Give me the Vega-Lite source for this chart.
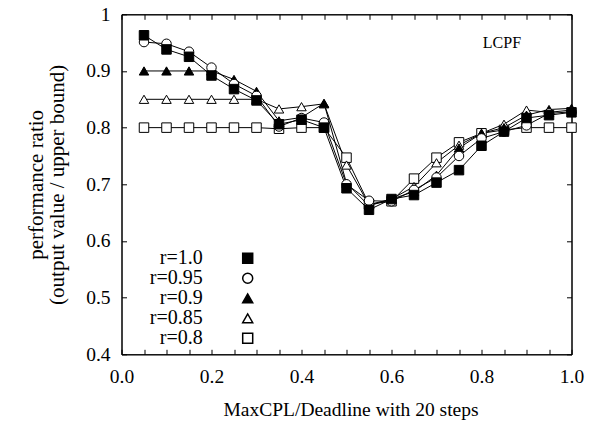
{
  "$schema": "https://vega.github.io/schema/vega-lite/v6.json",
  "width": 450,
  "height": 340,
  "autosize": {"type": "none"},
  "padding": {"left": 121.5, "top": 14.3, "right": 25.5, "bottom": 66.7},
  "background": "white",
  "data": {"values": [
    {"x":0.05,"y":0.80,"r":"r=0.8"},{"x":0.10,"y":0.80,"r":"r=0.8"},{"x":0.15,"y":0.80,"r":"r=0.8"},{"x":0.20,"y":0.80,"r":"r=0.8"},{"x":0.25,"y":0.80,"r":"r=0.8"},{"x":0.30,"y":0.80,"r":"r=0.8"},{"x":0.35,"y":0.798,"r":"r=0.8"},{"x":0.40,"y":0.80,"r":"r=0.8"},{"x":0.45,"y":0.80,"r":"r=0.8"},{"x":0.50,"y":0.747,"r":"r=0.8"},{"x":0.55,"y":0.665,"r":"r=0.8"},{"x":0.60,"y":0.670,"r":"r=0.8"},{"x":0.65,"y":0.710,"r":"r=0.8"},{"x":0.70,"y":0.747,"r":"r=0.8"},{"x":0.75,"y":0.774,"r":"r=0.8"},{"x":0.80,"y":0.790,"r":"r=0.8"},{"x":0.85,"y":0.796,"r":"r=0.8"},{"x":0.90,"y":0.800,"r":"r=0.8"},{"x":0.95,"y":0.800,"r":"r=0.8"},{"x":1.00,"y":0.800,"r":"r=0.8"},
    {"x":0.05,"y":0.85,"r":"r=0.85"},{"x":0.10,"y":0.85,"r":"r=0.85"},{"x":0.15,"y":0.85,"r":"r=0.85"},{"x":0.20,"y":0.85,"r":"r=0.85"},{"x":0.25,"y":0.85,"r":"r=0.85"},{"x":0.30,"y":0.85,"r":"r=0.85"},{"x":0.35,"y":0.833,"r":"r=0.85"},{"x":0.40,"y":0.837,"r":"r=0.85"},{"x":0.45,"y":0.842,"r":"r=0.85"},{"x":0.50,"y":0.734,"r":"r=0.85"},{"x":0.55,"y":0.664,"r":"r=0.85"},{"x":0.60,"y":0.674,"r":"r=0.85"},{"x":0.65,"y":0.696,"r":"r=0.85"},{"x":0.70,"y":0.738,"r":"r=0.85"},{"x":0.75,"y":0.769,"r":"r=0.85"},{"x":0.80,"y":0.790,"r":"r=0.85"},{"x":0.85,"y":0.806,"r":"r=0.85"},{"x":0.90,"y":0.831,"r":"r=0.85"},{"x":0.95,"y":0.827,"r":"r=0.85"},{"x":1.00,"y":0.831,"r":"r=0.85"},
    {"x":0.05,"y":0.90,"r":"r=0.9"},{"x":0.10,"y":0.90,"r":"r=0.9"},{"x":0.15,"y":0.90,"r":"r=0.9"},{"x":0.20,"y":0.90,"r":"r=0.9"},{"x":0.25,"y":0.885,"r":"r=0.9"},{"x":0.30,"y":0.864,"r":"r=0.9"},{"x":0.35,"y":0.812,"r":"r=0.9"},{"x":0.40,"y":0.818,"r":"r=0.9"},{"x":0.45,"y":0.843,"r":"r=0.9"},{"x":0.50,"y":0.702,"r":"r=0.9"},{"x":0.55,"y":0.662,"r":"r=0.9"},{"x":0.60,"y":0.674,"r":"r=0.9"},{"x":0.65,"y":0.687,"r":"r=0.9"},{"x":0.70,"y":0.716,"r":"r=0.9"},{"x":0.75,"y":0.764,"r":"r=0.9"},{"x":0.80,"y":0.790,"r":"r=0.9"},{"x":0.85,"y":0.800,"r":"r=0.9"},{"x":0.90,"y":0.822,"r":"r=0.9"},{"x":0.95,"y":0.832,"r":"r=0.9"},{"x":1.00,"y":0.834,"r":"r=0.9"},
    {"x":0.05,"y":0.951,"r":"r=0.95"},{"x":0.10,"y":0.948,"r":"r=0.95"},{"x":0.15,"y":0.934,"r":"r=0.95"},{"x":0.20,"y":0.906,"r":"r=0.95"},{"x":0.25,"y":0.877,"r":"r=0.95"},{"x":0.30,"y":0.856,"r":"r=0.95"},{"x":0.35,"y":0.802,"r":"r=0.95"},{"x":0.40,"y":0.817,"r":"r=0.95"},{"x":0.45,"y":0.809,"r":"r=0.95"},{"x":0.50,"y":0.700,"r":"r=0.95"},{"x":0.55,"y":0.671,"r":"r=0.95"},{"x":0.60,"y":0.670,"r":"r=0.95"},{"x":0.65,"y":0.690,"r":"r=0.95"},{"x":0.70,"y":0.712,"r":"r=0.95"},{"x":0.75,"y":0.750,"r":"r=0.95"},{"x":0.80,"y":0.781,"r":"r=0.95"},{"x":0.85,"y":0.793,"r":"r=0.95"},{"x":0.90,"y":0.804,"r":"r=0.95"},{"x":0.95,"y":0.825,"r":"r=0.95"},{"x":1.00,"y":0.828,"r":"r=0.95"},
    {"x":0.05,"y":0.963,"r":"r=1.0"},{"x":0.10,"y":0.938,"r":"r=1.0"},{"x":0.15,"y":0.925,"r":"r=1.0"},{"x":0.20,"y":0.892,"r":"r=1.0"},{"x":0.25,"y":0.868,"r":"r=1.0"},{"x":0.30,"y":0.848,"r":"r=1.0"},{"x":0.35,"y":0.806,"r":"r=1.0"},{"x":0.40,"y":0.814,"r":"r=1.0"},{"x":0.45,"y":0.800,"r":"r=1.0"},{"x":0.50,"y":0.693,"r":"r=1.0"},{"x":0.55,"y":0.655,"r":"r=1.0"},{"x":0.60,"y":0.674,"r":"r=1.0"},{"x":0.65,"y":0.681,"r":"r=1.0"},{"x":0.70,"y":0.703,"r":"r=1.0"},{"x":0.75,"y":0.725,"r":"r=1.0"},{"x":0.80,"y":0.768,"r":"r=1.0"},{"x":0.85,"y":0.793,"r":"r=1.0"},{"x":0.90,"y":0.817,"r":"r=1.0"},{"x":0.95,"y":0.822,"r":"r=1.0"},{"x":1.00,"y":0.827,"r":"r=1.0"}
  ]},
  "resolve": {"axis": {"x": "independent", "y": "independent"}},
  "layer": [
    {
      "mark": {"type": "line", "color": "black", "strokeWidth": 1},
      "encoding": {
        "x": {"field": "x", "type": "quantitative", "scale": {"domain": [0, 1], "nice": false, "zero": false},
          "axis": {"orient": "bottom", "values": [0,0.05,0.1,0.15,0.2,0.25,0.3,0.35,0.4,0.45,0.5,0.55,0.6,0.65,0.7,0.75,0.8,0.85,0.9,0.95,1],
            "labelExpr": "round(datum.value*100) % 20 == 0 ? format(datum.value, '.1f') : ''",
            "labelFont": "Liberation Serif", "labelFontSize": 19.5, "labelColor": "black", "labelPadding": 18,
            "title": "MaxCPL/Deadline with 20 steps", "titleFont": "Liberation Serif", "titleFontSize": 19.5, "titleFontWeight": "normal",
            "titleX": 229, "titleY": 55, "titleBaseline": "middle", "titleAnchor": "middle", "titleAlign": "center"}},
        "y": {"field": "y", "type": "quantitative", "scale": {"domain": [0.4, 1], "nice": false, "zero": false},
          "axis": {"orient": "left", "values": [0.4,0.5,0.6,0.7,0.8,0.9,1],
            "labelExpr": "datum.value == 1 ? '1' : format(datum.value, '.1f')",
            "labelFont": "Liberation Serif", "labelFontSize": 19.5, "labelColor": "black", "labelPadding": 16.5,
            "title": ["performance ratio", "(output value / upper bound)"], "titleFont": "Liberation Serif", "titleFontSize": 21, "titleFontWeight": "normal",
            "titleX": -85, "titleY": 170, "titleAngle": 270, "titleBaseline": "middle", "titleAlign": "center", "titleAnchor": "middle", "titleLineHeight": 21}},
        "detail": {"field": "r"}
      }
    },
    {
      "mark": {"type": "point", "filled": true, "stroke": "black", "strokeWidth": 1, "opacity": 1, "size": 90},
      "encoding": {
        "x": {"field": "x", "type": "quantitative",
          "axis": {"orient": "top", "values": [0,0.05,0.1,0.15,0.2,0.25,0.3,0.35,0.4,0.45,0.5,0.55,0.6,0.65,0.7,0.75,0.8,0.85,0.9,0.95,1], "labels": false, "title": null}},
        "y": {"field": "y", "type": "quantitative",
          "axis": {"orient": "right", "values": [0.4,0.5,0.6,0.7,0.8,0.9,1], "labels": false, "title": null}},
        "fill": {"field": "r", "type": "nominal", "scale": {"domain": ["r=1.0","r=0.95","r=0.9","r=0.85","r=0.8"], "range": ["black","white","black","white","white"]}, "legend": null},
        "shape": {"field": "r", "type": "nominal", "scale": {"domain": ["r=1.0","r=0.95","r=0.9","r=0.85","r=0.8"], "range": ["square","circle","triangle-up","triangle-up","square"]},
          "legend": {"orient": "none", "legendX": 119.5, "legendY": 234, "title": null, "symbolSize": 100, "rowPadding": 0, "symbolOffset": -3.3,
            "labelAlign": "right", "labelBaseline": "middle", "labelOffset": -55, "labelFontSize": 20, "labelFont": "Liberation Serif", "labelColor": "black", "labelLimit": 200,
            "encode": {"symbols": {
              "fill": {"value": {"expr": "(datum.value === 'r=1.0' || datum.value === 'r=0.9') ? 'black' : 'white'"}},
              "stroke": {"value": "black"}, "strokeWidth": {"value": 1}, "opacity": {"value": 1}}}}}
      }
    },
    {
      "data": {"values": [{"label": "LCPF"}]},
      "mark": {"type": "text", "align": "left", "baseline": "middle", "font": "Liberation Serif", "fontSize": 16, "color": "black"},
      "encoding": {
        "x": {"datum": 0.803, "type": "quantitative", "axis": null},
        "y": {"datum": 0.95, "type": "quantitative", "axis": null},
        "text": {"field": "label"}
      }
    }
  ],
  "config": {
    "view": {"stroke": "black", "strokeWidth": 1},
    "font": "Liberation Serif",
    "axis": {"grid": false, "tickSize": -5, "tickColor": "black", "domainColor": "black", "tickWidth": 1, "domainWidth": 1,
      "labelFont": "Liberation Serif", "labelFontSize": 19.5, "labelColor": "black", "labelFlush": false, "labelOverlap": false,
      "titleFont": "Liberation Serif", "titleFontWeight": "normal", "titleColor": "black"}
  }
}
